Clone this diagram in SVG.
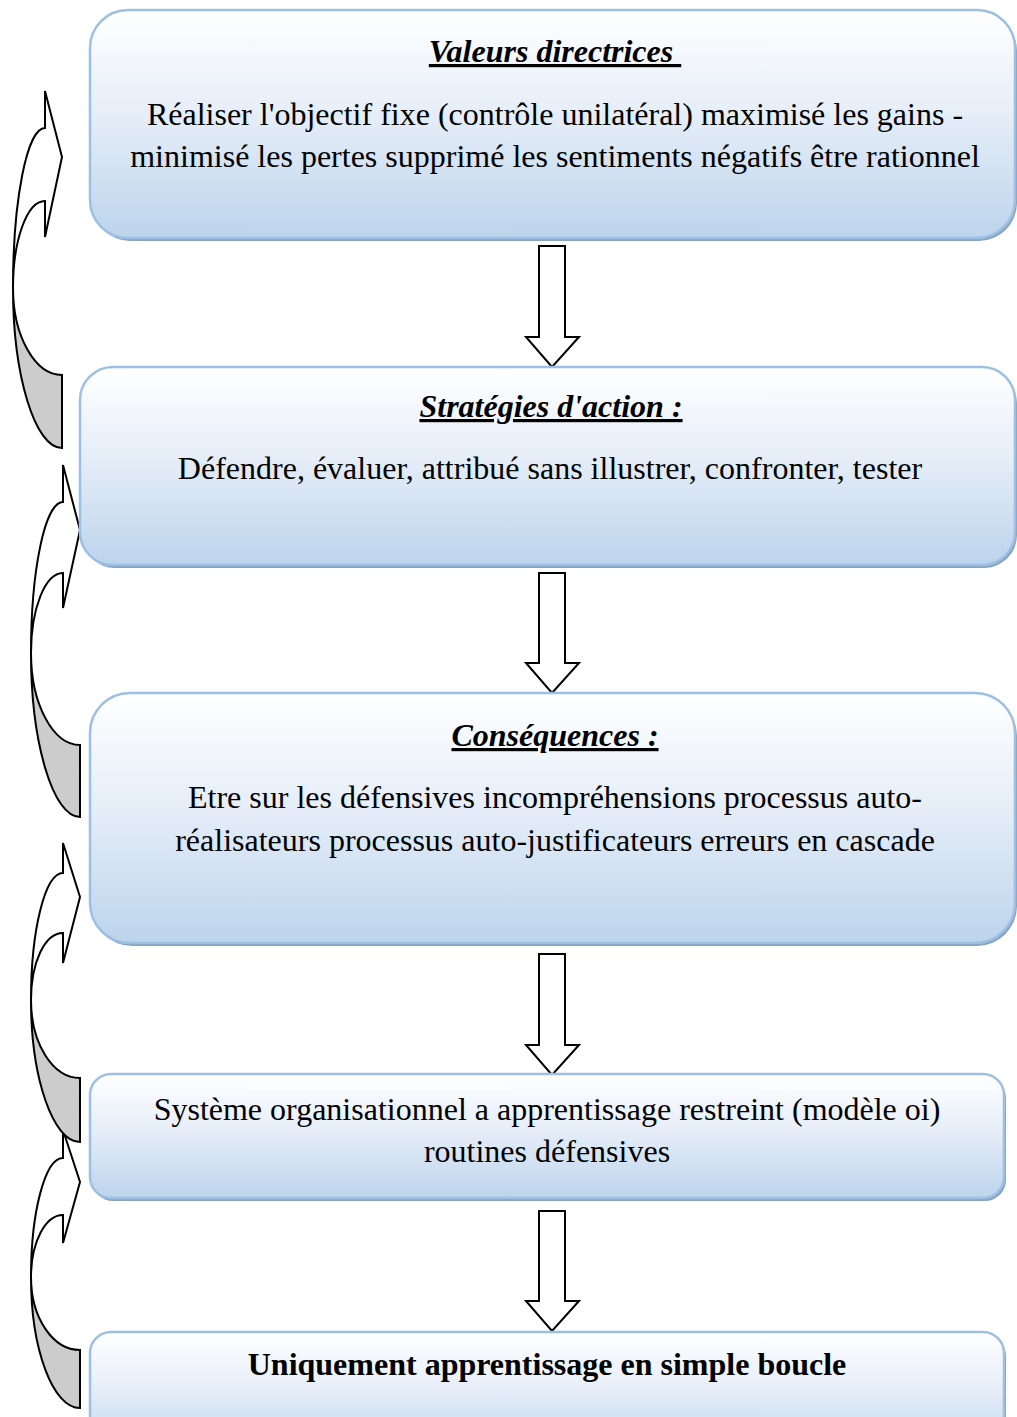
<svg xmlns="http://www.w3.org/2000/svg" width="1017" height="1417" viewBox="0 0 1017 1417">
  <defs>
    <linearGradient id="boxFill" x1="0" y1="0" x2="0" y2="1">
      <stop offset="0" stop-color="#ffffff"/>
      <stop offset="0.45" stop-color="#e6eef8"/>
      <stop offset="1" stop-color="#bcd4ec"/>
    </linearGradient>
    <style>
      .shadow { fill: #8aa3c1; }
      .box { fill: url(#boxFill); stroke: #9cc0e4; stroke-width: 2.5; }
      .txt { font-family: "Liberation Serif", "Times New Roman", serif; font-size: 32px; fill: #000; text-anchor: middle; }
      .head { font-weight: bold; font-style: italic; text-decoration: underline; }
      .bold { font-weight: bold; }
      .flow { fill: #ffffff; stroke: #000; stroke-width: 2; stroke-linejoin: miter; }
      .loopBack { fill: #cccccc; stroke: #000; stroke-width: 2; }
      .loopFront { fill: #ffffff; stroke: #000; stroke-width: 2; stroke-linejoin: miter; }
    </style>
  </defs>

  <rect width="1017" height="1417" fill="#ffffff"/>

  <!-- feedback loops on the left (curved right arrows) -->
  <g id="loops">
    <g id="loop1">
      <path class="loopBack" d="M13,288 C13,376 35,448 62,448 L62,375 C35,375 13,336 13,288 Z"/>
      <path class="loopFront" d="M13,288 C13,200 27,128 45,128 L45,91 L62,157 L45,237 L45,201 C27,201 13,240 13,288 Z"/>
    </g>
    <g id="loop2">
      <path class="loopBack" d="M31,653 C31,743 53,817 80,817 L80,745 C53,745 31,704 31,653 Z"/>
      <path class="loopFront" d="M31,653 C31,570 45,502 63,502 L63,465 L80,530 L63,608 L63,573 C45,573 31,609 31,653 Z"/>
    </g>
    <g id="loop4">
      <path class="loopBack" d="M31,1277 C31,1350 53,1408 80,1408 L80,1350 C53,1350 31,1318 31,1277 Z"/>
      <path class="loopFront" d="M31,1277 C31,1212 45,1158 63,1158 L63,1130 L80,1182 L63,1243 L63,1215 C45,1215 31,1243 31,1277 Z"/>
    </g>
    <g id="loop3">
      <path class="loopBack" d="M31,1000 C31,1078 53,1142 80,1142 L80,1078 C53,1078 31,1044 31,1000 Z"/>
      <path class="loopFront" d="M31,1000 C31,930 45,873 63,873 L63,843 L80,897 L63,963 L63,933 C45,933 31,962 31,1000 Z"/>
    </g>
  </g>

  <!-- downward block arrows between the stages -->
  <g id="connectors">
    <path class="flow" d="M539,246 L565,246 L565,337 L579,337 L552,367 L526,337 L539,337 Z"/>
    <path class="flow" d="M539,573 L565,573 L565,663 L579,663 L552,693 L526,663 L539,663 Z"/>
    <path class="flow" d="M539,954 L565,954 L565,1045 L579,1045 L552,1075 L526,1045 L539,1045 Z"/>
    <path class="flow" d="M539,1211 L565,1211 L565,1301 L579,1301 L552,1331 L526,1301 L539,1301 Z"/>
  </g>

  <g id="valeurs">
    <rect class="shadow" x="92" y="13" width="925" height="228" rx="38"/>
    <rect class="box" x="90" y="10" width="925" height="228" rx="38"/>
    <text class="txt head" x="555" y="62">Valeurs directrices&#160;</text>
    <text class="txt" x="555" y="125">Réaliser l'objectif fixe (contrôle unilatéral) maximisé les gains -</text>
    <text class="txt" x="555" y="167">minimisé les pertes supprimé les sentiments négatifs être rationnel</text>
  </g>

  <g id="strategies">
    <rect class="shadow" x="82" y="370" width="935" height="198" rx="33"/>
    <rect class="box" x="80" y="367" width="935" height="198" rx="33"/>
    <text class="txt head" x="551" y="417">Stratégies d'action :</text>
    <text class="txt" x="550" y="479">Défendre, évaluer, attribué sans illustrer, confronter, tester</text>
  </g>

  <g id="consequences">
    <rect class="shadow" x="92" y="696" width="925" height="250" rx="40"/>
    <rect class="box" x="90" y="693" width="925" height="250" rx="40"/>
    <text class="txt head" x="555" y="746">Conséquences :</text>
    <text class="txt" x="555" y="808">Etre sur les défensives incompréhensions processus auto-</text>
    <text class="txt" x="555" y="851">réalisateurs processus auto-justificateurs erreurs en cascade</text>
  </g>

  <g id="systeme">
    <rect class="shadow" x="92" y="1077" width="914" height="124" rx="21"/>
    <rect class="box" x="90" y="1074" width="914" height="124" rx="21"/>
    <text class="txt" x="547" y="1120">Système organisationnel a apprentissage restreint (modèle oi)</text>
    <text class="txt" x="547" y="1162">routines défensives</text>
  </g>

  <g id="simple-boucle">
    <rect class="shadow" x="92" y="1335" width="914" height="124" rx="21"/>
    <rect class="box" x="90" y="1332" width="914" height="124" rx="21"/>
    <text class="txt bold" x="547" y="1375">Uniquement apprentissage en simple boucle</text>
  </g>
</svg>
